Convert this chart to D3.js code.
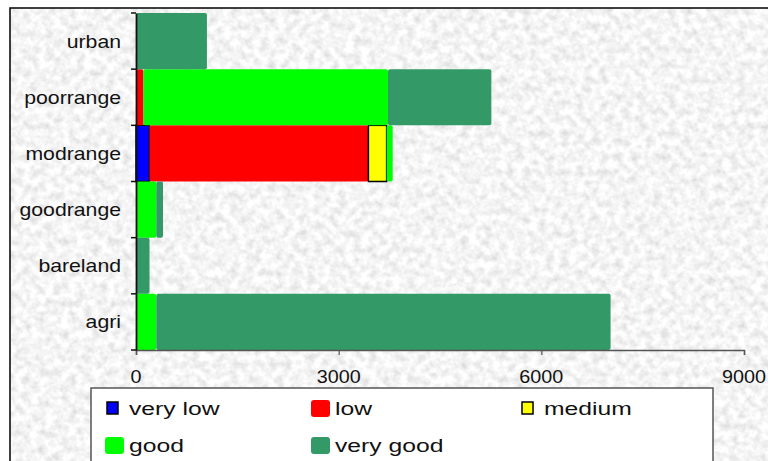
<!DOCTYPE html>
<html>
<head>
<meta charset="utf-8">
<script src="https://cdn.jsdelivr.net/npm/d3@7"></script>
<style>
  html, body { margin: 0; padding: 0; background: #fff; }
  svg { display: block; font-family: "Liberation Sans", Arial, sans-serif; }
</style>
</head>
<body>
<svg id="chart" width="768" height="461"></svg>
<script>
// Land-cover classes (top to bottom) and area per suitability class
const categories = ["urban", "poorrange", "modrange", "goodrange", "bareland", "agri"];
const veryLow  = [0,    0,    200,  0,   0,   0];
const low      = [0,    110,  3240, 0,   0,   0];
const medium   = [0,    0,    270,  0,   0,   0];
const good     = [0,    3620, 90,   300, 0,   300];
const veryGood = [1050, 1530, 0,    100, 200, 6725];

const seriesNames = ["very low", "low", "medium", "good", "very good"];
const seriesColors = ["#0000ff", "#ff0000", "#ffff00", "#00ff00", "#339966"];
const seriesOutlined = [true, false, true, false, false];
const xTicks = [0, 3000, 6000, 9000];

const svg = d3.select("#chart");

// granite-like textured background
const defs = svg.append("defs");
const f = defs.append("filter").attr("id", "granite")
  .attr("x", 0).attr("y", 0).attr("width", 1).attr("height", 1);
f.append("feTurbulence").attr("type", "fractalNoise")
  .attr("baseFrequency", 0.13).attr("numOctaves", 3).attr("seed", 7).attr("result", "n");
f.append("feColorMatrix").attr("in", "n").attr("type", "matrix")
  .attr("values", "0.5 0 0 0 0.66  0.5 0 0 0 0.66  0.5 0 0 0 0.66  0 0 0 0 1");

svg.append("rect").attr("x", 10).attr("y", 8).attr("width", 770).attr("height", 470)
  .attr("fill", "#ececec").attr("filter", "url(#granite)");
svg.append("rect").attr("x", 10).attr("y", 8).attr("width", 770).attr("height", 470)
  .attr("fill", "none").attr("stroke", "#000").attr("stroke-width", 1.5);

const x = d3.scaleLinear().domain([0, 9000]).range([136, 744]);
const y = d3.scaleBand().domain(categories).range([13, 350]).padding(0);

// stacked bars
const table = categories.map((c, i) => ({
  cat: c, "very low": veryLow[i], "low": low[i], "medium": medium[i],
  "good": good[i], "very good": veryGood[i]
}));
const stacked = d3.stack().keys(seriesNames)(table);

stacked.forEach((layer, si) => {
  svg.append("g").selectAll("rect")
    .data(layer.filter(d => d[1] - d[0] > 0))
    .join("rect")
    .attr("x", d => x(d[0]))
    .attr("y", d => y(d.data.cat))
    .attr("width", d => x(d[1]) - x(d[0]))
    .attr("height", y.bandwidth())
    .attr("rx", seriesOutlined[si] ? 0 : 2)
    .attr("fill", seriesColors[si])
    .attr("stroke", seriesOutlined[si] ? "#000" : "none")
    .attr("stroke-width", 1.5);
});

// x axis
const xAxis = svg.append("g").attr("transform", "translate(0,350)")
  .call(d3.axisBottom(x).tickValues(xTicks).tickSize(5).tickFormat(d3.format("d")));
xAxis.select(".domain").attr("stroke", "#555").attr("stroke-width", 1.5);
xAxis.selectAll(".tick line").attr("stroke", "#555").attr("stroke-width", 1.2);
xAxis.selectAll(".tick text").remove();
xTicks.forEach(t => {
  svg.append("text")
    .attr("transform", `translate(${x(t)},383) scale(1.13,1)`)
    .attr("text-anchor", "middle").attr("font-size", 17.5).attr("fill", "#111")
    .text(t);
});

// y axis
const yAxis = svg.append("g").attr("transform", "translate(136,0)")
  .call(d3.axisLeft(y).tickSize(0).tickFormat(""));
yAxis.select(".domain").attr("stroke", "#111").attr("stroke-width", 1.8);
const bounds = categories.map(c => y(c)).concat([y.range()[1]]);
svg.append("g").selectAll("line").data(bounds).join("line")
  .attr("x1", 131).attr("x2", 136).attr("y1", d => d).attr("y2", d => d)
  .attr("stroke", "#111").attr("stroke-width", 1.5);
categories.forEach(c => {
  svg.append("text")
    .attr("transform", `translate(121,${y(c) + y.bandwidth() / 2 + 6.5}) scale(1.18,1)`)
    .attr("text-anchor", "end").attr("font-size", 18).attr("fill", "#111")
    .text(c);
});

// legend
svg.append("rect").attr("x", 91).attr("y", 388).attr("width", 622).attr("height", 90)
  .attr("fill", "#fff").attr("stroke", "#555").attr("stroke-width", 1.5);
const legendCols = [107, 313, 522];
const legendRows = [408, 445];
seriesNames.forEach((name, i) => {
  const cx = legendCols[i % 3], cy = legendRows[Math.floor(i / 3)];
  if (seriesOutlined[i]) {
    svg.append("rect").attr("x", cx).attr("y", cy - 6).attr("width", 11).attr("height", 12)
      .attr("fill", seriesColors[i]).attr("stroke", "#000").attr("stroke-width", 1.5);
  } else {
    svg.append("rect").attr("x", cx - 2).attr("y", cy - 8).attr("width", 19).attr("height", 17)
      .attr("rx", 3).attr("fill", seriesColors[i]);
  }
  svg.append("text")
    .attr("transform", `translate(${cx + 22},${cy + 6.5}) scale(1.3,1)`)
    .attr("font-size", 19).attr("fill", "#111")
    .text(name);
});
</script>
</body>
</html>
